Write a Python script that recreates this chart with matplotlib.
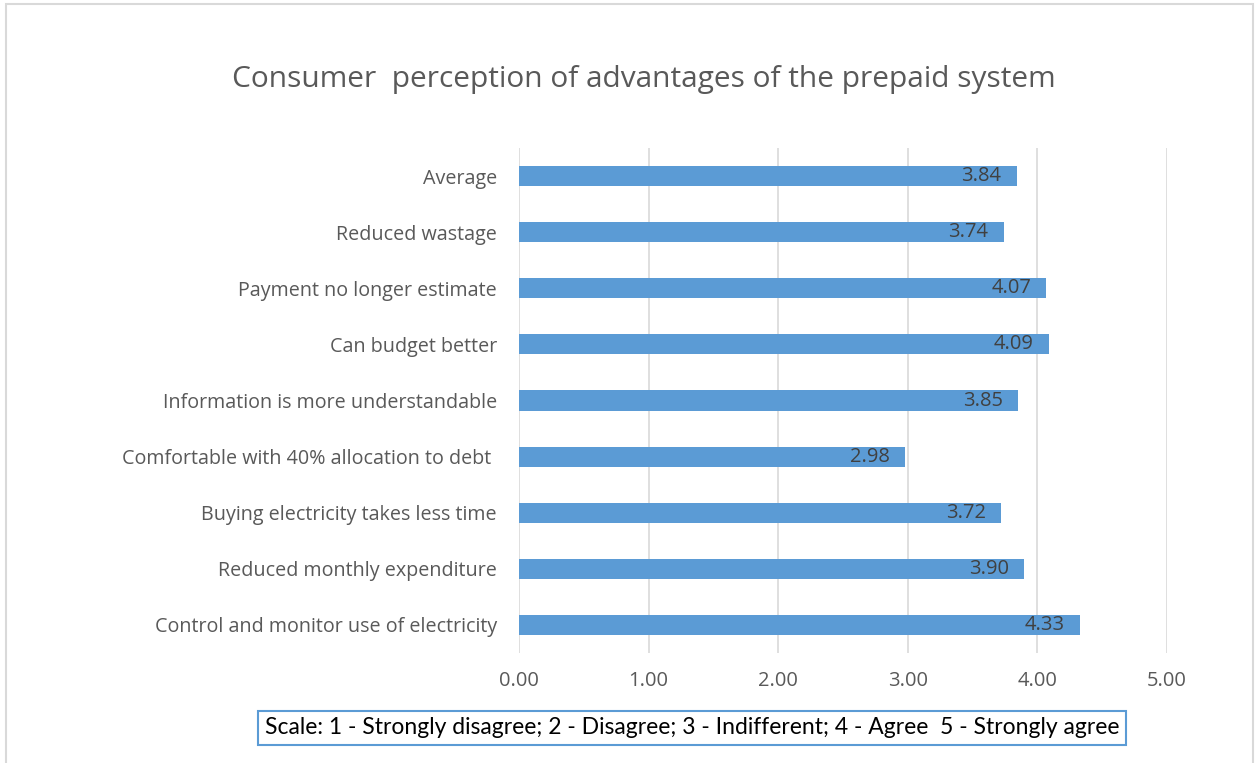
import matplotlib.pyplot as plt
from matplotlib.patches import Rectangle

plt.rcParams["font.family"] = ["Open Sans", "DejaVu Sans"]

categories = [
    "Control and monitor use of electricity",
    "Reduced monthly expenditure",
    "Buying electricity takes less time",
    "Comfortable with 40% allocation to debt ",
    "Information is more understandable",
    "Can budget better",
    "Payment no longer estimate",
    "Reduced wastage",
    "Average",
]
scores = [4.33, 3.90, 3.72, 2.98, 3.85, 4.09, 4.07, 3.74, 3.84]
xticks = [0, 1, 2, 3, 4, 5]

W, H = 1259, 763
fig = plt.figure(figsize=(W / 100, H / 100), dpi=100)

# light chart-area border
fig.patches.append(Rectangle((6 / W, -0.05), (1253 - 6) / W, 1.05 - 4 / H,
                             transform=fig.transFigure, fill=False,
                             edgecolor="#d9d9d9", linewidth=1.5))

ax = fig.add_axes([519 / W, 1 - 653 / H, (1167 - 519) / W, (653 - 148) / H])

y = range(len(categories))
bars = ax.barh(y, scores, height=0.36, color="#5b9bd5", zorder=2)

for b, v in zip(bars, scores):
    ax.annotate(f"{v:.2f}", (v, b.get_y() + b.get_height() / 2),
                xytext=(-11, 0), textcoords="offset points",
                ha="right", va="center", fontsize=14.5, color="#404040", zorder=3)

ax.set_xlim(0, 5)
ax.set_ylim(-0.5, len(categories) - 0.5)
ax.set_xticks(xticks)
ax.set_xticklabels([f"{t:.2f}" for t in xticks])
ax.set_yticks(list(y))
ax.set_yticklabels(categories)
ax.tick_params(axis="both", length=0, colors="#595959")
ax.tick_params(axis="x", pad=13, labelsize=14.5)
ax.tick_params(axis="y", pad=16, labelsize=14.2)
ax.grid(axis="x", color="#d9d9d9", linewidth=1.2, zorder=0)
for s in ax.spines.values():
    s.set_visible(False)

fig.text(644 / W, 1 - 79 / H, "Consumer  perception of advantages of the prepaid system",
         ha="center", va="center", fontsize=21.5, color="#595959")

fig.text(692 / W, 1 - 728 / H,
         "Scale: 1 - Strongly disagree; 2 - Disagree; 3 - Indifferent; 4 - Agree  5 - Strongly agree",
         ha="center", va="center", fontsize=16.5, color="black",
         family=["Lato", "DejaVu Sans"],
         bbox=dict(boxstyle="square,pad=0.3", facecolor="white",
                   edgecolor="#5b9bd5", linewidth=1.5))

fig.savefig("out.png", dpi=100)
